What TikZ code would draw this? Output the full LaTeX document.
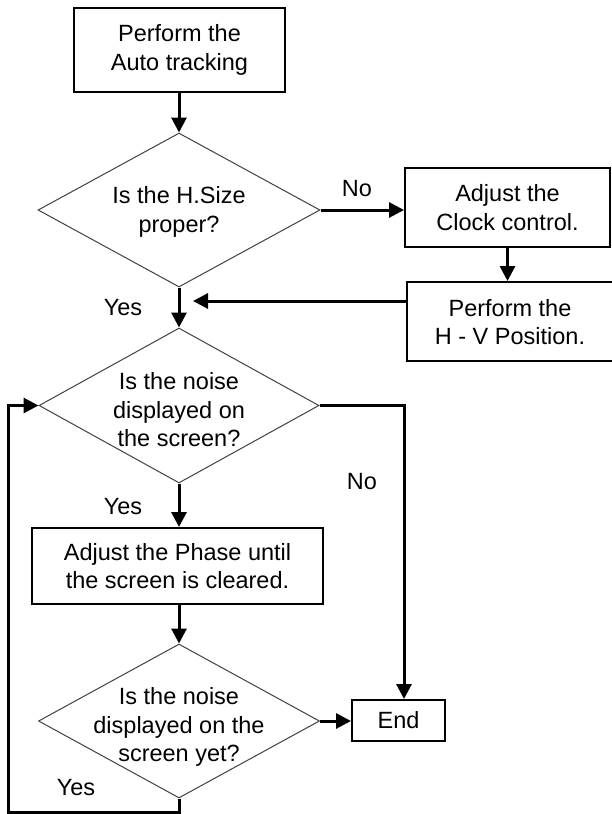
\documentclass[tikz,border=0pt]{standalone}
\usepackage{fontspec}
\setmainfont{Liberation Sans}
\usetikzlibrary{shapes.geometric,arrows.meta}
\begin{document}
\begin{tikzpicture}[x=1pt,y=-1pt,
  every node/.style={font=\fontsize{23.5}{28.5}\selectfont, align=center, inner sep=0pt},
  box/.style={draw, line width=2pt, rectangle},
  dia/.style={draw=black!75, line width=1pt, diamond},
  arr/.style={line width=3pt, -{Triangle[length=15pt,width=15pt]}},
  ln/.style={line width=3pt}]
\useasboundingbox (0,0) rectangle (611,814);

% boxes
\node[box, minimum width=211pt, minimum height=84pt] (b1) at (179.5,50) {Perform the\\Auto tracking};
\node[box, minimum width=205pt, minimum height=79pt] (b2) at (507.5,207.5) {Adjust the\\Clock control.};
\node[box, minimum width=210pt, minimum height=79pt] (b3) at (512,321.5) {};
\node (b3t) at (510,322) {Perform the\\H - V Position.};
\node[box, minimum width=291pt, minimum height=76pt] (b4) at (177.5,566) {Adjust the Phase until\\the screen is cleared.};
\node[box, minimum width=93pt, minimum height=41pt] (e) at (398.5,720.5) {End};

% diamonds
\node[dia, minimum width=282pt, minimum height=154pt] (d1) at (179,210) {};
\node (d1t) at (179,212) {Is the H.Size\\proper?};
\node[dia, minimum width=280pt, minimum height=155pt] (d2) at (179,405.5) {};
\node (d2t) at (179,410) {Is the noise\\displayed on\\the screen?};
\node[dia, minimum width=281pt, minimum height=154pt] (d3) at (179,721) {};
\node (d3t) at (179,727) {Is the noise\\displayed on the\\screen yet?};

% labels
\node (l1) at (357,189) {No};
\node (l2) at (123,308) {Yes};
\node (l3) at (362,482) {No};
\node (l4) at (123,507) {Yes};
\node (l5) at (76,788) {Yes};

% helper coordinates
\coordinate (j) at (193,301);
\coordinate (k) at (404,0);
\coordinate (lp1) at (179,812);
\coordinate (lp2) at (8.6,812);

% connectors
\draw[arr] (b1.south -| d1.north) -- (d1.north);
\draw[arr] (d1.east) -- (d1.east -| b2.west);
\draw[arr] (b2.south) -- (b2.south |- b3.north);
\draw[arr] (d1.south) -- (d2.north);
\draw[arr] (b3.west |- j) -- (j);
\draw[arr] (d2.east) -- (d2.east -| k) -- (k |- e.north);
\draw[arr] (d2.south) -- (d2.south |- b4.north);
\draw[arr] (b4.south -| d3.north) -- (d3.north);
\draw[arr] (d3.east) -- (d3.east -| e.west);
\draw[arr] (d3.south) -- (lp1) -- (lp2) |- (d2.west);
\end{tikzpicture}
\end{document}
